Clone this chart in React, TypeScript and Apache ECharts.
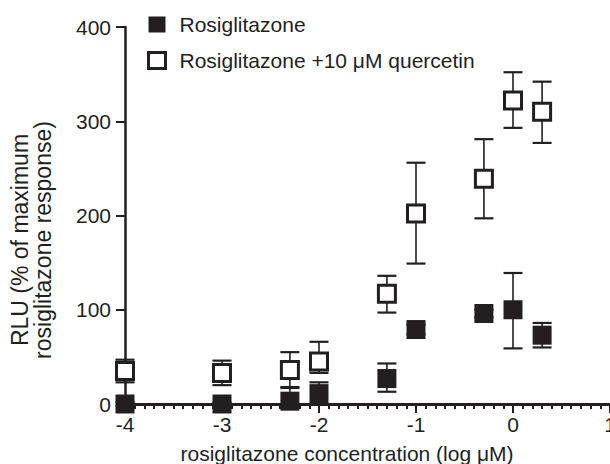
import React, { useEffect, useRef } from "react";
import * as echarts from "echarts";

const logConc = [-4, -3, -2.3, -2, -1.3, -1, -0.3, 0, 0.3];
const rosiMean = [0, 0, 3, 11, 27, 79, 96, 100, 73];
const rosiLow = [-2, -2, 0, 0, 13, 74, 92, 59, 60];
const rosiHigh = [2, 2, 18, 23, 43, 84, 100, 139, 86];
const querMean = [35, 33, 36, 45, 117, 202, 239, 322, 310];
const querLow = [23, 20, 17, 33, 97, 149, 197, 293, 277];
const querHigh = [47, 46, 55, 66, 136, 256, 281, 352, 342];
const xTicks = [-4, -3, -2, -1, 0, 1];
const yTicks = [0, 100, 200, 300, 400];
const seriesNames = ["Rosiglitazone", "Rosiglitazone +10 μM quercetin"];

const INK = "#231f20";
const FONT = "Liberation Sans, Arial, sans-serif";

function errorRender(params: any, api: any) {
  const x = api.value(0);
  const lo = api.coord([x, api.value(1)]);
  const hi = api.coord([x, api.value(2)]);
  const half = 9.5;
  const style = { stroke: INK, lineWidth: 1.6 };
  const capStyle = { stroke: INK, lineWidth: 2.2 };
  return {
    type: "group",
    children: [
      { type: "line", shape: { x1: lo[0], y1: lo[1], x2: hi[0], y2: hi[1] }, style },
      { type: "line", shape: { x1: hi[0] - half, y1: hi[1], x2: hi[0] + half, y2: hi[1] }, style: capStyle },
      { type: "line", shape: { x1: lo[0] - half, y1: lo[1], x2: lo[0] + half, y2: lo[1] }, style: capStyle },
    ],
  };
}

export default function App() {
  const ref = useRef<HTMLDivElement>(null);
  useEffect(() => {
    if (!ref.current) return;
    const chart = echarts.init(ref.current, null, { renderer: "svg" });
    const rosiPts = logConc.map((x, i) => [x, rosiMean[i]]);
    const querPts = logConc.map((x, i) => [x, querMean[i]]);
    const rosiErr = logConc.map((x, i) => [x, rosiLow[i], rosiHigh[i]]);
    const querErr = logConc.map((x, i) => [x, querLow[i], querHigh[i]]);
    chart.setOption({
      animation: false,
      backgroundColor: "#fff",
      grid: { left: 125, right: 0, top: 27, bottom: 60, containLabel: false, outerBoundsMode: "none" },
      legend: {
        orient: "vertical",
        left: 147,
        top: 14,
        padding: 0,
        itemWidth: 17,
        itemHeight: 16,
        itemGap: 15,
        textStyle: { fontFamily: FONT, fontSize: 21, lineHeight: 16, color: INK, padding: [0, 0, 0, 9] },
        data: [
          { name: seriesNames[0], icon: "rect", itemStyle: { color: INK, borderWidth: 0 } },
          { name: seriesNames[1], icon: "rect", itemStyle: { color: "#fff", borderColor: INK, borderWidth: 3 } },
        ],
      },
      xAxis: {
        type: "value",
        min: xTicks[0],
        max: xTicks[xTicks.length - 1],
        interval: 1,
        axisLine: { show: true, onZero: false, lineStyle: { color: INK, width: 3 } },
        axisTick: { show: true, length: 9, lineStyle: { color: INK, width: 2 } },
        minorTick: { show: true, splitNumber: 10, length: 5, lineStyle: { color: INK, width: 2 } },
        splitLine: { show: false },
        axisLabel: { fontFamily: FONT, fontSize: 21, color: INK, margin: 10, showMaxLabel: true, showMinLabel: true },
      },
      yAxis: {
        type: "value",
        min: yTicks[0],
        max: yTicks[yTicks.length - 1],
        interval: 100,
        axisLine: { show: true, onZero: false, lineStyle: { color: INK, width: 2.5 } },
        axisTick: { show: true, length: 9, lineStyle: { color: INK, width: 2 } },
        splitLine: { show: false },
        axisLabel: { fontFamily: FONT, fontSize: 21, color: INK, margin: 14 },
      },
      graphic: [
        {
          type: "text",
          x: 347,
          y: 453,
          style: {
            text: "rosiglitazone concentration (log μM)",
            font: `21px ${FONT}`,
            fill: INK,
            textAlign: "center",
            textVerticalAlign: "middle",
          },
        },
        {
          type: "text",
          x: 31.5,
          y: 240,
          rotation: Math.PI / 2,
          style: {
            text: "RLU (% of maximum\nrosiglitazone response)",
            font: `23px ${FONT}`,
            lineHeight: 23,
            fill: INK,
            textAlign: "center",
            textVerticalAlign: "middle",
          },
        },
      ],
      series: [
        {
          type: "custom",
          name: "rosiErr",
          renderItem: errorRender,
          data: rosiErr,
          encode: { x: 0, y: [1, 2] },
          clip: false,
          z: 1,
          silent: true,
        },
        {
          type: "custom",
          name: "querErr",
          renderItem: errorRender,
          data: querErr,
          encode: { x: 0, y: [1, 2] },
          clip: false,
          z: 1,
          silent: true,
        },
        {
          type: "scatter",
          name: seriesNames[0],
          data: rosiPts,
          symbol: "rect",
          symbolSize: 19,
          clip: false,
          z: 3,
          itemStyle: { color: INK, opacity: 1 },
        },
        {
          type: "scatter",
          name: seriesNames[1],
          data: querPts,
          symbol: "rect",
          symbolSize: 17,
          clip: false,
          z: 3,
          itemStyle: { color: "#fff", borderColor: INK, borderWidth: 3, opacity: 1 },
        },
      ],
    });
    return () => chart.dispose();
  }, []);
  return (
    <div
      ref={ref}
      style={{ position: "fixed", left: 0, top: 0, width: 610, height: 464 }}
    />
  );
}
